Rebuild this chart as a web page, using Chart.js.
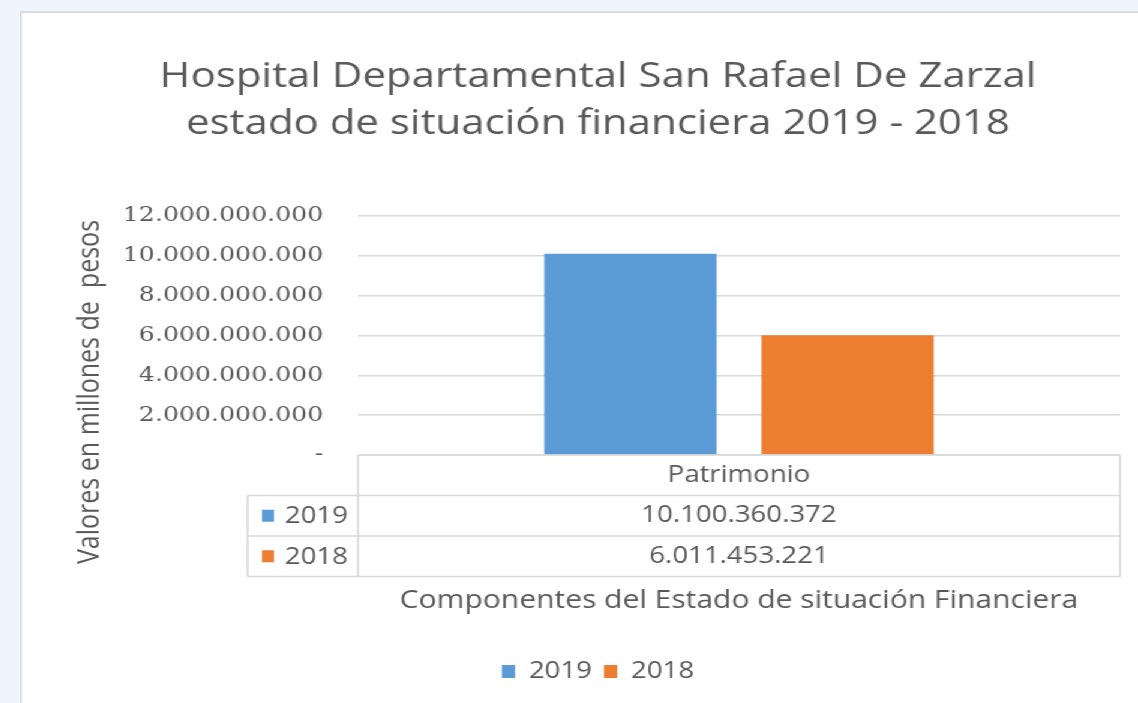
<!DOCTYPE html>
<html>
<head>
<meta charset="utf-8">
<script src="https://cdn.jsdelivr.net/npm/chart.js@4"></script>
<style>
  html, body { margin: 0; padding: 0; overflow: hidden; background: #eef5fc; }
  /* the source picture is a horizontally stretched screenshot, so stretch the same way */
  #wrap {
    position: absolute; left: 22px; top: 13px; width: 960px; height: 700px;
    background: #fff; box-shadow: 0 0 0 2px #dcdcdc;
    transform: scaleX(1.2); transform-origin: left top;
  }
</style>
</head>
<body>
<div id="wrap"><canvas id="chart"></canvas></div>
<script>
// data
const categories = ["Patrimonio"];
const seriesNames = ["2019", "2018"];
const values2019 = [10100360372];
const values2018 = [6011453221];
const seriesColors = ["#5B9BD5", "#ED7D31"];
const yTickValues = [0, 2000000000, 4000000000, 6000000000, 8000000000, 10000000000, 12000000000];

const textColor = "#595959";
const lineColor = "#d9d9d9";

// 10100360372 -> "10.100.360.372", 0 -> "-"
function fmt(n) {
  if (n === 0) return "-";
  return String(Math.round(n)).replace(/\B(?=(\d{3})+(?!\d))/g, ".");
}

// data table under the plot + rotated y title
const tablePlugin = {
  id: "dataTable",
  afterDraw(chart) {
    const ctx = chart.ctx;
    const area = chart.chartArea;
    const xs = chart.scales.x;
    const rowH = 40.5;
    const top = area.bottom;
    const colLeft = area.left - 92;
    const rows = [values2019, values2018];

    ctx.save();
    ctx.strokeStyle = lineColor;
    ctx.lineWidth = 1.6;
    ctx.beginPath();
    // header row
    ctx.moveTo(area.left, top); ctx.lineTo(area.right, top);
    ctx.moveTo(area.left, top); ctx.lineTo(area.left, top + rowH * 3);
    ctx.moveTo(area.right, top); ctx.lineTo(area.right, top + rowH * 3);
    // series rows
    for (let r = 1; r <= 3; r++) {
      ctx.moveTo(colLeft, top + rowH * r); ctx.lineTo(area.right, top + rowH * r);
    }
    ctx.moveTo(colLeft, top + rowH); ctx.lineTo(colLeft, top + rowH * 3);
    ctx.stroke();

    ctx.fillStyle = textColor;
    ctx.font = "23px 'Open Sans'";
    ctx.textBaseline = "middle";
    ctx.textAlign = "center";
    categories.forEach((c, i) => {
      const cx = xs.getPixelForValue(i);
      ctx.fillText(c, cx, top + rowH / 2);
      rows.forEach((vals, r) => {
        ctx.fillText(fmt(vals[i]), cx, top + rowH * (r + 1.5));
      });
    });

    ctx.textAlign = "left";
    seriesNames.forEach((s, r) => {
      const cy = top + rowH * (r + 1.5);
      ctx.fillStyle = seriesColors[r];
      ctx.fillRect(colLeft + 12, cy - 6, 10, 12);
      ctx.fillStyle = textColor;
      ctx.fillText(s, colLeft + 31, cy + 1);
    });

    // y axis title
    ctx.translate(57, 379);
    ctx.rotate(-Math.PI / 2);
    ctx.textAlign = "center";
    ctx.font = "25px 'Open Sans'";
    ctx.fillText("Valores en millones de  pesos", 0, 0);
    ctx.restore();
  }
};

new Chart("chart", {
  type: "bar",
  data: {
    labels: categories,
    datasets: [
      {
        label: seriesNames[0],
        data: values2019,
        backgroundColor: seriesColors[0],
        categoryPercentage: 0.57,
        barPercentage: 0.793,
      },
      {
        label: seriesNames[1],
        data: values2018,
        backgroundColor: seriesColors[1],
        categoryPercentage: 0.57,
        barPercentage: 0.793,
      },
    ],
  },
  options: {
    responsive: true,
    maintainAspectRatio: false,
    animation: false,
    layout: {
      padding: { top: 0, right: 45, bottom: 20, left: 45 },
    },
    plugins: {
      title: {
        display: true,
        text: [
          "Hospital Departamental San Rafael De Zarzal",
          "estado de situación financiera 2019 - 2018",
        ],
        color: textColor,
        font: { family: "'Open Sans'", size: 35, weight: "normal", lineHeight: 1.34 },
        padding: { top: 41, bottom: 68 },
      },
      legend: {
        position: "bottom",
        labels: {
          color: textColor,
          boxWidth: 11,
          boxHeight: 13,
          padding: 10,
          font: { family: "'Open Sans'", size: 23 },
        },
      },
      tooltip: { enabled: false },
    },
    scales: {
      x: {
        grid: { display: false },
        border: { display: false },
        ticks: { display: false },
        title: {
          display: true,
          text: "Componentes del Estado de situación Financiera",
          color: textColor,
          font: { family: "'Open Sans'", size: 25 },
          padding: { top: 0, bottom: 34 },
        },
        afterFit(scale) {
          scale.height = 195;
        },
      },
      y: {
        min: 0,
        max: 12000000000,
        afterBuildTicks(scale) {
          scale.ticks = yTickValues.map((v) => ({ value: v }));
        },
        grid: { color: lineColor, lineWidth: 1.5, drawTicks: false },
        border: { display: false },
        ticks: {
          color: textColor,
          padding: 29,
          font: { family: "'DejaVu Serif'", size: 21 },
          callback: (v) => fmt(v),
        },
        afterFit(scale) {
          scale.width = 235;
        },
      },
    },
  },
  plugins: [tablePlugin],
});
</script>
</body>
</html>
